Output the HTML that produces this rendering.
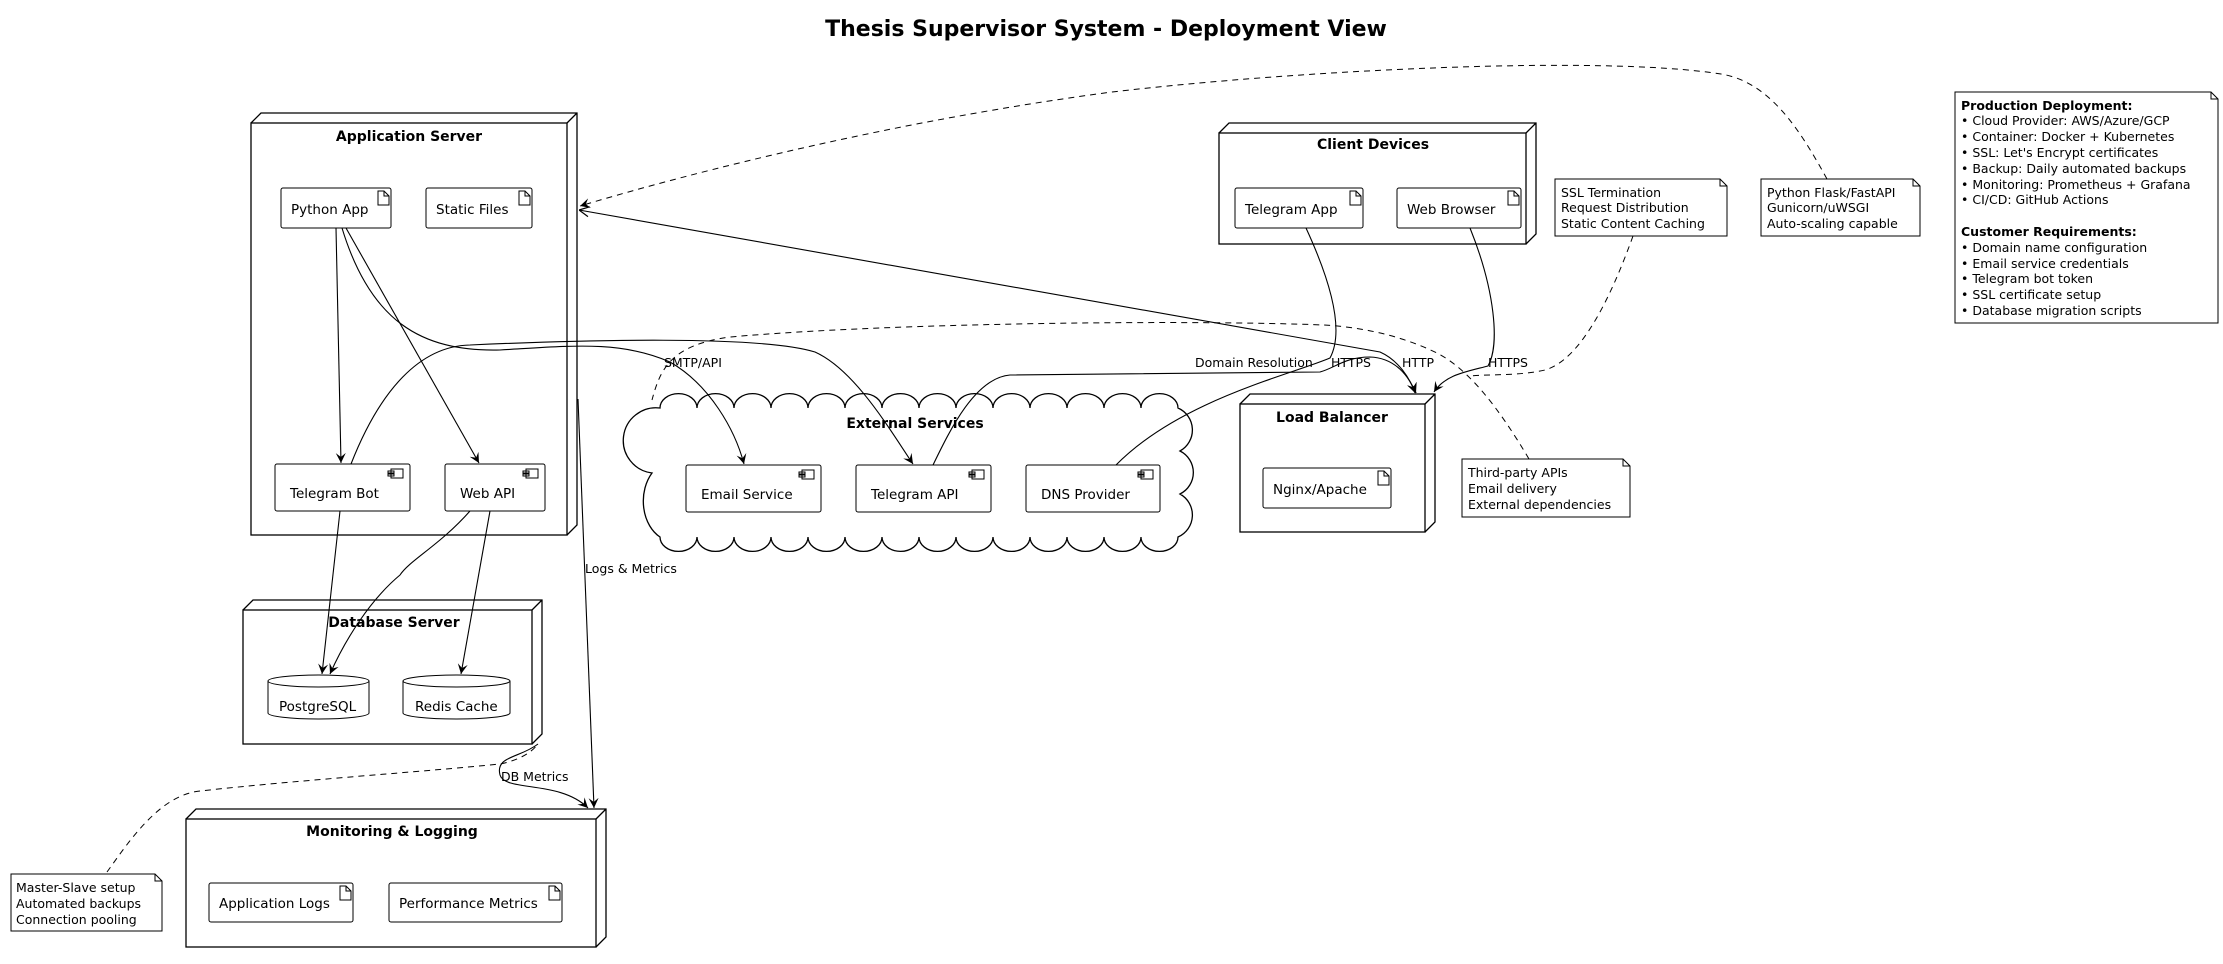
<!DOCTYPE html>
<html><head><meta charset="utf-8"><style>
html,body{margin:0;padding:0;background:#fff;}
svg{display:block;font-family:"DejaVu Sans","Liberation Sans",sans-serif;}
</style></head><body>
<svg width="2223" height="964" viewBox="0 0 2223 964" xmlns="http://www.w3.org/2000/svg">
<defs>
<marker id="a" markerWidth="12" markerHeight="12" refX="10" refY="6" orient="auto" markerUnits="userSpaceOnUse">
<path d="M0,1 L10,6 L0,11 L4,6 Z" fill="#000"/></marker>
<marker id="s" markerWidth="12" markerHeight="12" refX="0" refY="6" orient="auto" markerUnits="userSpaceOnUse">
<path d="M10,1 L0,6 L10,11" fill="none" stroke="#000" stroke-width="1.2"/></marker>
</defs>
<g fill="none" stroke="#000" stroke-width="1.3">
<path d="M251,123 l10,-10 h316 v412 l-10,10 M567,123 l10,-10"/><rect x="251" y="123" width="316" height="412"/>
<path d="M243,610 l10,-10 h289 v134 l-10,10 M532,610 l10,-10"/><rect x="243" y="610" width="289" height="134"/>
<path d="M186,819 l10,-10 h410 v128 l-10,10 M596,819 l10,-10"/><rect x="186" y="819" width="410" height="128"/>
<path d="M1219,133 l10,-10 h307 v111 l-10,10 M1526,133 l10,-10"/><rect x="1219" y="133" width="307" height="111"/>
<path d="M1240,404 l10,-10 h185 v128 l-10,10 M1425,404 l10,-10"/><rect x="1240" y="404" width="185" height="128"/>
<path d="M660,408 a18,14 0 0,1 37,0 a18,14 0 0,1 37,0 a18,14 0 0,1 37,0 a18,14 0 0,1 37,0 a18,14 0 0,1 37,0 a18,14 0 0,1 37,0 a18,14 0 0,1 37,0 a18,14 0 0,1 37,0 a18,14 0 0,1 37,0 a18,14 0 0,1 37,0 a18,14 0 0,1 37,0 a18,14 0 0,1 37,0 a18,14 0 0,1 37,0 a18,14 0 0,1 37,0 a24,24 0 0,1 2,43 a24,24 0 0,1 0,43 a24,24 0 0,1 -2,43 a18,14 0 0,1 -37,0 a18,14 0 0,1 -37,0 a18,14 0 0,1 -37,0 a18,14 0 0,1 -37,0 a18,14 0 0,1 -37,0 a18,14 0 0,1 -37,0 a18,14 0 0,1 -37,0 a18,14 0 0,1 -37,0 a18,14 0 0,1 -37,0 a18,14 0 0,1 -37,0 a18,14 0 0,1 -37,0 a18,14 0 0,1 -37,0 a18,14 0 0,1 -37,0 a18,14 0 0,1 -37,0 a30,40 0 0,1 -8,-64 a30,30 0 0,1 8,-65 Z"/>
<g stroke-width="1">
<rect x="281" y="188" width="110" height="40" rx="2"/><path d="M378,191 h6 l5,5 v9 h-11 Z M384,191 v5 h5"/>
<rect x="426" y="188" width="106" height="40" rx="2"/><path d="M519,191 h6 l5,5 v9 h-11 Z M525,191 v5 h5"/>
<rect x="1235" y="188" width="128" height="40" rx="2"/><path d="M1350,191 h6 l5,5 v9 h-11 Z M1356,191 v5 h5"/>
<rect x="1397" y="188" width="124" height="40" rx="2"/><path d="M1508,191 h6 l5,5 v9 h-11 Z M1514,191 v5 h5"/>
<rect x="1263" y="468" width="128" height="40" rx="2"/><path d="M1378,471 h6 l5,5 v9 h-11 Z M1384,471 v5 h5"/>
<rect x="209" y="883" width="144" height="39" rx="2"/><path d="M340,886 h6 l5,5 v9 h-11 Z M346,886 v5 h5"/>
<rect x="389" y="883" width="173" height="39" rx="2"/><path d="M549,886 h6 l5,5 v9 h-11 Z M555,886 v5 h5"/>
<rect x="275" y="464" width="135" height="47" rx="2"/><path d="M391,469 h12 v9 h-12 Z M388,471 h6 v2 h-6 Z M388,474 h6 v2 h-6 Z"/>
<rect x="445" y="464" width="100" height="47" rx="2"/><path d="M526,469 h12 v9 h-12 Z M523,471 h6 v2 h-6 Z M523,474 h6 v2 h-6 Z"/>
<rect x="686" y="465" width="135" height="47" rx="2"/><path d="M802,470 h12 v9 h-12 Z M799,472 h6 v2 h-6 Z M799,475 h6 v2 h-6 Z"/>
<rect x="856" y="465" width="135" height="47" rx="2"/><path d="M972,470 h12 v9 h-12 Z M969,472 h6 v2 h-6 Z M969,475 h6 v2 h-6 Z"/>
<rect x="1026" y="465" width="134" height="47" rx="2"/><path d="M1141,470 h12 v9 h-12 Z M1138,472 h6 v2 h-6 Z M1138,475 h6 v2 h-6 Z"/>
<path d="M268,681 a50,6 0 0,1 101,0 v32 a50,6 0 0,1 -101,0 Z M268,681 a50,6 0 0,0 101,0"/>
<path d="M403,681 a53,6 0 0,1 107,0 v32 a53,6 0 0,1 -107,0 Z M403,681 a53,6 0 0,0 107,0"/>
<path d="M11,874 h144 l7,7 v50 h-151 Z M155,874 v7 h7"/>
<path d="M1555,179 h165 l7,7 v50 h-172 Z M1720,179 v7 h7"/>
<path d="M1761,179 h152 l7,7 v50 h-159 Z M1913,179 v7 h7"/>
<path d="M1955,92 h256 l7,7 v224 h-263 Z M2211,92 v7 h7"/>
<path d="M1462,459 h161 l7,7 v51 h-168 Z M1623,459 v7 h7"/>
</g>
<g stroke-width="1.1">
<path d="M336,228 L341,463" marker-end="url(#a)"/>
<path d="M346,228 L479,463" marker-end="url(#a)"/>
<path d="M342,228 C370,320 420,352 500,350 C570,346 620,340 670,362 C710,385 735,430 744,464" marker-end="url(#a)"/>
<path d="M351,464 C380,390 420,346 470,345 C580,340 760,335 815,352 C855,370 890,430 913,464" marker-end="url(#a)"/>
<path d="M470,511 C440,545 410,560 400,575 C370,600 345,640 330,674" marker-end="url(#a)"/>
<path d="M340,511 L322,674" marker-end="url(#a)"/>
<path d="M490,511 L461,674" marker-end="url(#a)"/>
<path d="M578,399 L594,808" marker-end="url(#a)"/>
<path d="M538,744 C520,758 495,756 500,775 C505,792 560,780 588,808" marker-end="url(#a)"/>
<path d="M579,210 L1380,352 C1398,360 1410,378 1415,393" marker-start="url(#s)" marker-end="url(#a)"/>
<path d="M933,465 C950,430 975,378 1010,375 L1320,372 C1335,368 1345,357 1370,357 C1395,358 1408,375 1416,393"/>
<path d="M1413,386 L1416,393" marker-end="url(#a)"/>
<path d="M1306,228 C1330,280 1345,330 1330,358 C1290,375 1180,400 1116,465"/>
<path d="M1470,228 C1495,290 1500,345 1488,366 C1465,372 1445,375 1434,392" marker-end="url(#a)"/>
</g>
<g stroke-width="1" stroke-dasharray="6,5">
<path d="M1633,236 C1610,300 1580,360 1545,370 C1520,376 1490,374 1470,376"/>
<path d="M1827,179 C1800,130 1770,82 1721,74 C1600,55 1300,70 1112,92 C900,120 700,170 580,206" marker-end="url(#a)"/>
<path d="M1529,459 C1500,410 1470,370 1437,353 C1400,335 1360,327 1324,325 C1200,320 900,322 730,337 C670,345 660,370 652,400"/>
<path d="M107,872 C130,840 160,795 200,791 C300,780 420,772 500,764 C520,760 532,752 538,744"/>
</g>
</g>
<g font-size="13.5" fill="#000">
<text x="1106" y="36" font-size="22" font-weight="bold" text-anchor="middle">Thesis Supervisor System - Deployment View</text>
<g font-weight="bold" text-anchor="middle" font-size="14">
<text x="409" y="141">Application Server</text>
<text x="394" y="627">Database Server</text>
<text x="392" y="836">Monitoring &amp; Logging</text>
<text x="1373" y="149">Client Devices</text>
<text x="1332" y="422">Load Balancer</text>
<text x="915" y="428">External Services</text>
</g>
<text x="291" y="214">Python App</text>
<text x="436" y="214">Static Files</text>
<text x="1245" y="214">Telegram App</text>
<text x="1407" y="214">Web Browser</text>
<text x="1273" y="494">Nginx/Apache</text>
<text x="219" y="908">Application Logs</text>
<text x="399" y="908">Performance Metrics</text>
<text x="290" y="498">Telegram Bot</text>
<text x="460" y="498">Web API</text>
<text x="701" y="499">Email Service</text>
<text x="871" y="499">Telegram API</text>
<text x="1041" y="499">DNS Provider</text>
<text x="279" y="711">PostgreSQL</text>
<text x="415" y="711">Redis Cache</text>
<g font-size="12.5">
<text x="664" y="367">SMTP/API</text>
<text x="585" y="573">Logs &amp; Metrics</text>
<text x="501" y="781">DB Metrics</text>
<text x="1195" y="367">Domain Resolution</text>
<text x="1331" y="367">HTTPS</text>
<text x="1402" y="367">HTTP</text>
<text x="1488" y="367">HTTPS</text>
<text x="16" y="892">Master-Slave setup</text>
<text x="16" y="908">Automated backups</text>
<text x="16" y="924">Connection pooling</text>
<text x="1561" y="197">SSL Termination</text>
<text x="1561" y="212">Request Distribution</text>
<text x="1561" y="228">Static Content Caching</text>
<text x="1767" y="197">Python Flask/FastAPI</text>
<text x="1767" y="212">Gunicorn/uWSGI</text>
<text x="1767" y="228">Auto-scaling capable</text>
<text x="1468" y="477">Third-party APIs</text>
<text x="1468" y="493">Email delivery</text>
<text x="1468" y="509">External dependencies</text>
<text x="1961" y="110" font-weight="bold">Production Deployment:</text>
<text x="1961" y="125">• Cloud Provider: AWS/Azure/GCP</text>
<text x="1961" y="141">• Container: Docker + Kubernetes</text>
<text x="1961" y="157">• SSL: Let's Encrypt certificates</text>
<text x="1961" y="173">• Backup: Daily automated backups</text>
<text x="1961" y="189">• Monitoring: Prometheus + Grafana</text>
<text x="1961" y="204">• CI/CD: GitHub Actions</text>
<text x="1961" y="236" font-weight="bold">Customer Requirements:</text>
<text x="1961" y="252">• Domain name configuration</text>
<text x="1961" y="268">• Email service credentials</text>
<text x="1961" y="283">• Telegram bot token</text>
<text x="1961" y="299">• SSL certificate setup</text>
<text x="1961" y="315">• Database migration scripts</text>
</g>
</g>
</svg>
</body></html>
